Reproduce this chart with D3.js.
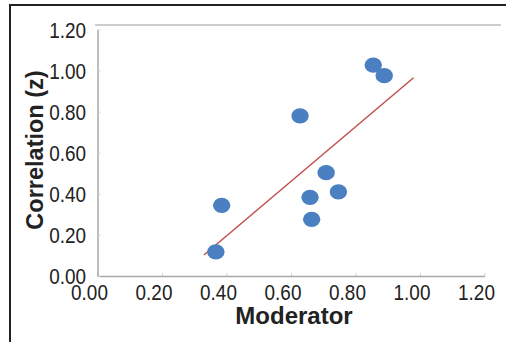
<!DOCTYPE html>
<html>
<head>
<meta charset="utf-8">
<script src="https://cdn.jsdelivr.net/npm/d3@7"></script>
<style>
  body { margin: 0; background: #fff; }
  svg { display: block; }
</style>
</head>
<body>
<div id="chart"></div>
<script>
const width = 506;
const height = 342;

// data
const moderator = [0.367, 0.385, 0.628, 0.709, 0.747, 0.659, 0.664, 0.855, 0.889];
const correlation = [0.117, 0.344, 0.780, 0.503, 0.410, 0.383, 0.276, 1.027, 0.975];
// trendline end points
const trendX = [0.33, 0.98];
const trendY = [0.102, 0.965];
const tickValues = [0, 0.2, 0.4, 0.6, 0.8, 1.0, 1.2];

const svg = d3.select('#chart').append('svg')
  .attr('width', width)
  .attr('height', height);

const xScale = d3.scaleLinear().domain([0, 1.2]).range([97.5, 484.5]);
const yScale = d3.scaleLinear().domain([0, 1.2]).range([276, 29.5]);

// outer frame (top + left only)
svg.append('path')
  .attr('d', 'M10,342 L10,5 L506,5')
  .attr('fill', 'none')
  .attr('stroke', '#222')
  .attr('stroke-width', 2);

// top border line of the plot area
svg.append('line')
  .attr('x1', 95).attr('x2', 501)
  .attr('y1', 25).attr('y2', 25)
  .attr('stroke', '#bdbdbd')
  .attr('stroke-width', 1.5);

const fmt = d3.format('.2f');
const labelFont = '"Liberation Sans", Arial, sans-serif';

// x axis
const xAxis = svg.append('g')
  .attr('transform', `translate(0,${yScale(0)})`)
  .call(d3.axisBottom(xScale).tickValues(tickValues).tickFormat(fmt)
    .tickSizeInner(-3).tickSizeOuter(0));

// y axis
const yAxis = svg.append('g')
  .attr('transform', `translate(${xScale(0)},0)`)
  .call(d3.axisLeft(yScale).tickValues(tickValues).tickFormat(fmt)
    .tickSizeInner(-3).tickSizeOuter(0));

[xAxis, yAxis].forEach(ax => {
  ax.select('.domain').attr('stroke', '#a8a8a8').attr('stroke-width', 1.5);
  ax.selectAll('.tick line').attr('stroke', '#cfcfcf');
  ax.selectAll('.tick text')
    .attr('fill', '#222')
    .style('font-family', labelFont)
    .style('font-size', '22px');
});

// slightly condensed labels like the original
xAxis.selectAll('.tick text')
  .attr('y', null).attr('dy', null).attr('x', null)
  .attr('transform', 'translate(-8.5,24) scale(0.86,1)');

yAxis.selectAll('.tick text')
  .attr('x', null).attr('dy', '0.36em')
  .attr('transform', 'translate(-11.5,0) scale(0.86,1)');

// trendline
svg.append('line')
  .attr('x1', xScale(trendX[0])).attr('y1', yScale(trendY[0]))
  .attr('x2', xScale(trendX[1])).attr('y2', yScale(trendY[1]))
  .attr('stroke', '#c0504d')
  .attr('stroke-width', 1.5);

// points
svg.selectAll('ellipse').data(moderator)
  .enter().append('ellipse')
  .attr('cx', d => xScale(d))
  .attr('cy', (d, i) => yScale(correlation[i]))
  .attr('rx', 8.7)
  .attr('ry', 7.6)
  .attr('fill', '#4a7fc1');

// axis titles
svg.append('text')
  .attr('x', 294)
  .attr('y', 324)
  .attr('text-anchor', 'middle')
  .style('font-family', labelFont)
  .style('font-weight', 'bold')
  .style('font-size', '24px')
  .attr('fill', '#222')
  .text('Moderator');

svg.append('text')
  .attr('transform', 'translate(43,150) rotate(-90)')
  .attr('text-anchor', 'middle')
  .style('font-family', labelFont)
  .style('font-weight', 'bold')
  .style('font-size', '23.5px')
  .attr('fill', '#222')
  .text('Correlation (z)');
</script>
</body>
</html>
